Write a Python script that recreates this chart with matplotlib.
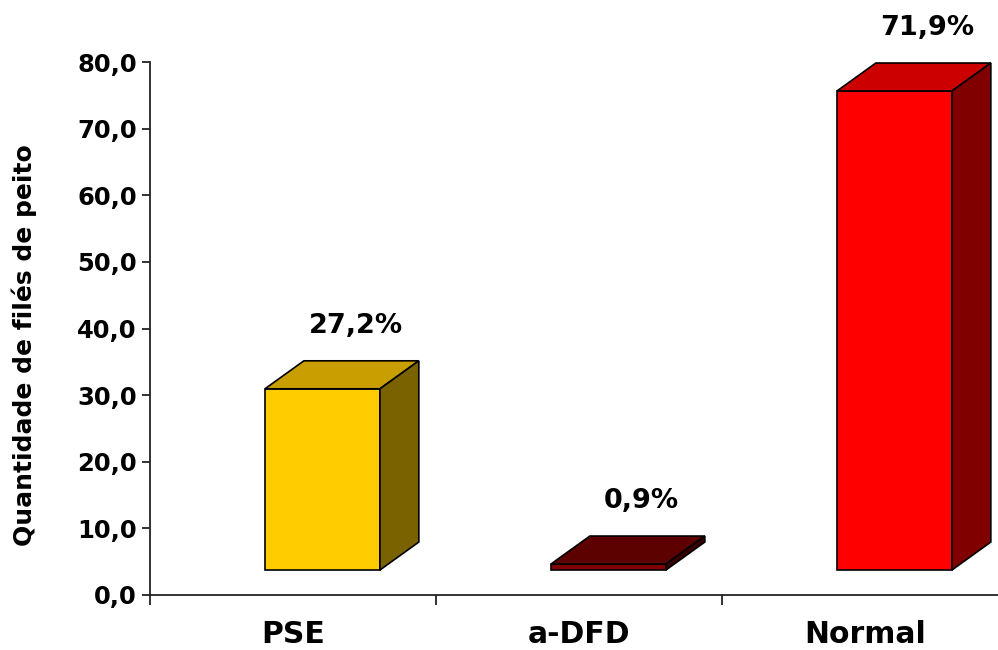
import matplotlib.pyplot as plt
from matplotlib.patches import Polygon

categories = ['PSE', 'a-DFD', 'Normal']
values = [27.2, 0.9, 71.9]
labels = ['27,2%', '0,9%', '71,9%']
yticks = [0, 10, 20, 30, 40, 50, 60, 70, 80]

front_colors = ['#FFCC00', '#800000', '#FF0000']
top_colors = ['#C89E00', '#5C0000', '#CC0000']
side_colors = ['#7A6200', '#3A0000', '#800000']

# fake 3D geometry, in data units
BASE = 3.75
DX = 0.136
DY = 4.2
WIDTH = 0.402
OFFSET = 0.603

fig = plt.figure(figsize=(9.98, 6.5), dpi=100)
ax = fig.add_axes([150 / 998, 55 / 650, 848 / 998, 533 / 650])

xs = [i + OFFSET for i in range(len(categories))]
ax.bar(xs, values, width=WIDTH, bottom=BASE, color=front_colors,
       edgecolor='black', linewidth=1.2, zorder=3)

for x, v, tc, sc, lab in zip(xs, values, top_colors, side_colors, labels):
    x0 = x - WIDTH / 2
    x1 = x + WIDTH / 2
    top = BASE + v
    top_face = [(x0, top), (x1, top), (x1 + DX, top + DY), (x0 + DX, top + DY)]
    side_face = [(x1, BASE), (x1 + DX, BASE + DY), (x1 + DX, top + DY), (x1, top)]
    ax.add_patch(Polygon(top_face, closed=True, facecolor=tc, edgecolor='black',
                         linewidth=1.2, zorder=3))
    ax.add_patch(Polygon(side_face, closed=True, facecolor=sc, edgecolor='black',
                         linewidth=1.2, zorder=3))
    ax.text(x + DX * 0.85, top + DY + 3.3, lab, ha='center', va='bottom',
            fontsize=19.5, fontweight='bold', family='DejaVu Sans', clip_on=False)

ax.set_xlim(0, 848 / 286)
ax.set_ylim(0, 80)

ax.spines['top'].set_visible(False)
ax.spines['right'].set_visible(False)
for s in ['left', 'bottom']:
    ax.spines[s].set_linewidth(1.3)
    ax.spines[s].set_color('#222222')

ax.set_yticks(yticks)
ax.set_yticklabels(['{:.1f}'.format(t).replace('.', ',') for t in yticks])
ax.tick_params(axis='y', length=6, width=1.3, pad=3.5, labelsize=17.5,
               color='#222222')
for t in ax.get_yticklabels():
    t.set_fontweight('bold')
    t.set_family('DejaVu Sans')

ax.set_xticks([0, 1, 2])
ax.set_xticklabels([])
ax.tick_params(axis='x', which='major', length=7, width=1.3, color='#222222')
ax.set_xticks([i + 0.5 for i in range(len(categories))], minor=True)
ax.set_xticklabels(categories, minor=True)
ax.tick_params(axis='x', which='minor', length=0, pad=18, labelsize=21.5)
for t in ax.get_xticklabels(minor=True):
    t.set_fontweight('bold')
    t.set_family('DejaVu Sans')

ax.set_ylabel('Quantidade de filés de peito', fontsize=18, fontweight='bold',
              family='DejaVu Sans')
ax.yaxis.set_label_coords(-0.133, 0.469)

plt.savefig('out.png', dpi=100)
